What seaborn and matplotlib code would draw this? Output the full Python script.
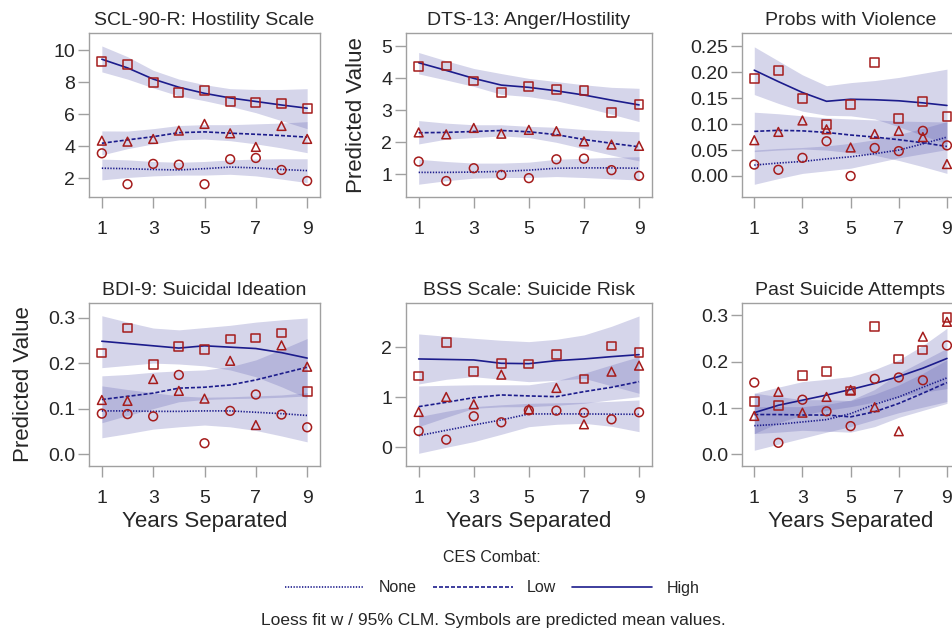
import matplotlib
matplotlib.use("Agg")
import matplotlib.pyplot as plt
from matplotlib.lines import Line2D
from matplotlib.ticker import FormatStrFormatter
import seaborn as sns
import pandas as pd

# ------------------------------------------------------------------
# Data (x = years separated 1..9)
# rows in every block: None, Low, High  (CES combat exposure)
# ------------------------------------------------------------------
years = [1, 2, 3, 4, 5, 6, 7, 8, 9]
groups = ["None", "Low", "High"]

titles = ["SCL-90-R: Hostility Scale", "DTS-13: Anger/Hostility", "Probs with Violence",
          "BDI-9: Suicidal Ideation", "BSS Scale: Suicide Risk", "Past Suicide Attempts"]

# SCL-90-R hostility
scl_means = [[3.56, 1.63, 2.90, 2.85, 1.63, 3.19, 3.27, 2.52, 1.83],
             [4.35, 4.29, 4.46, 4.98, 5.40, 4.81, 3.96, 5.27, 4.46],
             [9.29, 9.13, 7.98, 7.35, 7.50, 6.81, 6.75, 6.65, 6.35]]
scl_fit = [[2.63, 2.60, 2.55, 2.52, 2.60, 2.70, 2.65, 2.55, 2.48],
           [4.19, 4.40, 4.60, 4.85, 4.90, 4.82, 4.75, 4.67, 4.57],
           [9.44, 8.90, 8.20, 7.69, 7.31, 7.02, 6.80, 6.58, 6.38]]
scl_lo = [[1.90, 2.05, 2.15, 2.20, 2.20, 2.25, 2.15, 1.95, 1.73],
          [3.46, 3.85, 4.15, 4.40, 4.45, 4.35, 4.15, 3.90, 3.60],
          [8.65, 8.20, 7.65, 7.15, 6.85, 6.50, 6.10, 5.60, 5.10]]
scl_hi = [[3.20, 3.15, 3.05, 3.00, 3.05, 3.15, 3.20, 3.22, 3.22],
          [4.96, 4.95, 5.10, 5.30, 5.35, 5.35, 5.40, 5.45, 5.54],
          [10.27, 9.60, 8.75, 8.20, 7.85, 7.60, 7.55, 7.55, 7.60]]

# DTS-13 anger/hostility
dts_means = [[1.40, 0.79, 1.19, 0.98, 0.88, 1.47, 1.49, 1.13, 0.95],
             [2.31, 2.25, 2.45, 2.27, 2.39, 2.35, 2.03, 1.93, 1.89],
             [4.38, 4.39, 3.92, 3.56, 3.74, 3.65, 3.61, 2.93, 3.19]]
dts_fit = [[1.06, 1.06, 1.07, 1.09, 1.13, 1.19, 1.20, 1.20, 1.19],
           [2.30, 2.31, 2.34, 2.37, 2.33, 2.24, 2.09, 1.97, 1.86],
           [4.49, 4.25, 4.00, 3.79, 3.72, 3.61, 3.48, 3.32, 3.17]]
dts_lo = [[0.69, 0.80, 0.88, 0.90, 0.90, 0.93, 0.90, 0.86, 0.82],
          [1.95, 2.10, 2.15, 2.20, 2.15, 2.00, 1.80, 1.60, 1.42],
          [4.14, 3.95, 3.75, 3.50, 3.43, 3.30, 3.10, 2.88, 2.65]]
dts_hi = [[1.47, 1.40, 1.35, 1.35, 1.38, 1.47, 1.50, 1.53, 1.55],
          [2.68, 2.60, 2.55, 2.55, 2.50, 2.47, 2.40, 2.36, 2.33],
          [4.81, 4.55, 4.31, 4.15, 4.00, 3.90, 3.80, 3.72, 3.69]]

# problems with violence
vio_means = [[0.022, 0.012, 0.035, 0.067, 0.000, 0.054, 0.048, 0.087, 0.059],
             [0.069, 0.085, 0.107, 0.090, 0.055, 0.081, 0.087, 0.075, 0.023],
             [0.188, 0.203, 0.149, 0.100, 0.138, 0.219, 0.111, 0.143, 0.114]]
vio_fit = [[0.021, 0.025, 0.028, 0.033, 0.037, 0.043, 0.050, 0.062, 0.075],
           [0.086, 0.088, 0.087, 0.084, 0.079, 0.075, 0.070, 0.064, 0.057],
           [0.204, 0.182, 0.161, 0.144, 0.148, 0.147, 0.145, 0.141, 0.136]]
vio_lo = [[-0.016, -0.005, 0.005, 0.010, 0.015, 0.025, 0.035, 0.043, 0.051],
          [0.047, 0.050, 0.052, 0.050, 0.045, 0.040, 0.030, 0.018, 0.005],
          [0.157, 0.140, 0.125, 0.117, 0.116, 0.110, 0.095, 0.078, 0.062]]
vio_hi = [[0.050, 0.053, 0.055, 0.058, 0.063, 0.070, 0.080, 0.092, 0.105],
          [0.123, 0.120, 0.116, 0.112, 0.110, 0.108, 0.106, 0.105, 0.104],
          [0.249, 0.222, 0.195, 0.174, 0.180, 0.184, 0.190, 0.198, 0.206]]

# BDI-9 suicidal ideation
bdi_means = [[0.089, 0.088, 0.083, 0.174, 0.024, 0.095, 0.131, 0.087, 0.059],
             [0.119, 0.117, 0.165, 0.139, 0.122, 0.205, 0.064, 0.239, 0.192],
             [0.222, 0.277, 0.197, 0.236, 0.230, 0.253, 0.255, 0.266, 0.137]]
bdi_fit = [[0.095, 0.095, 0.094, 0.094, 0.095, 0.095, 0.092, 0.089, 0.085],
           [0.120, 0.127, 0.134, 0.145, 0.147, 0.152, 0.163, 0.177, 0.191],
           [0.248, 0.243, 0.238, 0.233, 0.238, 0.235, 0.232, 0.223, 0.211]]
bdi_lo = [[0.036, 0.045, 0.055, 0.060, 0.064, 0.060, 0.052, 0.040, 0.027],
          [0.069, 0.085, 0.100, 0.115, 0.120, 0.122, 0.123, 0.125, 0.128],
          [0.190, 0.195, 0.200, 0.198, 0.194, 0.185, 0.170, 0.148, 0.123]]
bdi_hi = [[0.150, 0.142, 0.135, 0.128, 0.125, 0.126, 0.128, 0.130, 0.135],
          [0.172, 0.175, 0.180, 0.183, 0.185, 0.192, 0.207, 0.230, 0.254],
          [0.304, 0.290, 0.277, 0.273, 0.278, 0.283, 0.290, 0.295, 0.299]]

# BSS suicide risk
bss_means = [[0.327, 0.153, 0.620, 0.500, 0.740, 0.733, 0.693, 0.560, 0.700],
             [0.707, 1.007, 0.860, 1.453, 0.760, 1.187, 0.460, 1.513, 1.633],
             [1.427, 2.100, 1.520, 1.673, 1.667, 1.853, 1.367, 2.027, 1.893]]
bss_fit = [[0.233, 0.340, 0.447, 0.547, 0.667, 0.667, 0.667, 0.663, 0.660],
           [0.813, 0.900, 0.993, 1.047, 1.027, 1.013, 1.113, 1.200, 1.313],
           [1.767, 1.757, 1.747, 1.680, 1.673, 1.733, 1.767, 1.813, 1.853]]
bss_lo = [[-0.120, 0.000, 0.113, 0.260, 0.413, 0.460, 0.480, 0.420, 0.313],
          [0.413, 0.600, 0.780, 0.810, 0.813, 0.840, 0.880, 0.950, 1.013],
          [1.267, 1.360, 1.413, 1.360, 1.313, 1.340, 1.380, 1.230, 1.080]]
bss_hi = [[0.613, 0.720, 0.813, 0.850, 0.880, 0.890, 0.900, 0.920, 0.947],
          [1.227, 1.240, 1.250, 1.250, 1.250, 1.330, 1.480, 1.650, 1.813],
          [2.267, 2.220, 2.180, 2.140, 2.113, 2.160, 2.247, 2.420, 2.627]]

# past suicide attempts
psa_means = [[0.155, 0.025, 0.118, 0.093, 0.061, 0.163, 0.166, 0.160, 0.235],
             [0.083, 0.135, 0.090, 0.124, 0.139, 0.102, 0.050, 0.254, 0.286],
             [0.114, 0.106, 0.170, 0.178, 0.137, 0.276, 0.206, 0.225, 0.296]]
psa_fit = [[0.062, 0.065, 0.070, 0.075, 0.088, 0.108, 0.124, 0.145, 0.165],
           [0.086, 0.086, 0.085, 0.085, 0.081, 0.092, 0.110, 0.132, 0.155],
           [0.090, 0.106, 0.117, 0.128, 0.140, 0.153, 0.168, 0.186, 0.207]]
psa_lo = [[0.009, 0.022, 0.035, 0.048, 0.060, 0.075, 0.090, 0.102, 0.114],
          [0.045, 0.048, 0.052, 0.050, 0.048, 0.060, 0.080, 0.095, 0.110],
          [0.045, 0.068, 0.085, 0.095, 0.103, 0.113, 0.124, 0.134, 0.142]]
psa_hi = [[0.103, 0.103, 0.103, 0.108, 0.117, 0.140, 0.175, 0.202, 0.229],
          [0.132, 0.125, 0.118, 0.118, 0.116, 0.130, 0.150, 0.175, 0.204],
          [0.132, 0.145, 0.157, 0.162, 0.168, 0.183, 0.204, 0.235, 0.272]]

# ------------------------------------------------------------------
# style
# ------------------------------------------------------------------
sns.set_theme(style="white")
plt.rcParams["font.family"] = ["Liberation Sans", "DejaVu Sans"]

NAVY = "#1c1c8c"
RED = "#a51c1c"
BAND = "#6464b4"
FRAME = "#a0a0a0"
marker_map = {"None": "o", "Low": "^", "High": "s"}
dash_map = {"None": (0.8, 0.9), "Low": (2.4, 1.2), "High": ""}

W, H = 952, 629
fig = plt.figure(figsize=(W / 100, H / 100), dpi=100)

# axes boxes in pixels: (left, width) per column, (top, height) per row
col_px = [(89, 231), (406, 246), (742, 217)]
row_px = [(33, 164), (303, 163)]
col_xlim = [(0.5, 9.5), (0.54, 9.47), (0.49, 9.5)]

panels = [
    (scl_means, scl_fit, scl_lo, scl_hi, (0.83, 11.08), [2, 4, 6, 8, 10], "%d"),
    (dts_means, dts_fit, dts_lo, dts_hi, (0.29, 5.42), [1, 2, 3, 4, 5], "%d"),
    (vio_means, vio_fit, vio_lo, vio_hi, (-0.0405, 0.2757), [0, 0.05, 0.10, 0.15, 0.20, 0.25], "%.2f"),
    (bdi_means, bdi_fit, bdi_lo, bdi_hi, (-0.026, 0.332), [0, 0.1, 0.2, 0.3], "%.1f"),
    (bss_means, bss_fit, bss_lo, bss_hi, (-0.374, 2.886), [0, 1, 2], "%d"),
    (psa_means, psa_fit, psa_lo, psa_hi, (-0.025, 0.3266), [0, 0.1, 0.2, 0.3], "%.1f"),
]

for i, (means, fits, lows, highs, ylim, yticks, fmt) in enumerate(panels):
    r, c = divmod(i, 3)
    left, width = col_px[c]
    top, height = row_px[r]
    ax = fig.add_axes([left / W, 1 - (top + height) / H, width / W, height / H])

    rows = []
    for g, m, f, lo, hi in zip(groups, means, fits, lows, highs):
        for k, yr in enumerate(years):
            rows.append({"combat": g, "year": yr, "mean": m[k], "fit": f[k], "lo": lo[k], "hi": hi[k]})
    df = pd.DataFrame(rows)

    # 95% CLM bands
    for g in groups:
        sub = df[df["combat"] == g]
        ax.fill_between(sub["year"], sub["lo"], sub["hi"], color=BAND, alpha=0.27, lw=0, zorder=1)

    # loess fits
    sns.lineplot(data=df, x="year", y="fit", style="combat", style_order=groups,
                 dashes=dash_map, color=NAVY, lw=1.2, errorbar=None,
                 legend=False, ax=ax, zorder=2)

    # predicted means
    sns.scatterplot(data=df, x="year", y="mean", style="combat", style_order=groups,
                    markers=marker_map, s=40, facecolor="none", edgecolor=RED,
                    linewidth=1.1, legend=False, ax=ax, zorder=3)

    ax.set_xlim(col_xlim[c])
    ax.set_ylim(ylim)
    ax.set_xticks([1, 3, 5, 7, 9])
    ax.set_yticks(yticks)
    ax.yaxis.set_major_formatter(FormatStrFormatter(fmt))
    ax.set_title(titles[i], fontsize=14, pad=6)
    ax.set_xlabel("Years Separated" if r == 1 else "", fontsize=16, labelpad=3)
    ax.set_ylabel("Predicted Value" if i in (1, 3) else "", fontsize=16, labelpad=10)
    ax.tick_params(axis="y", left=True, length=8, width=1, color=FRAME, pad=2, labelsize=14)
    ax.tick_params(axis="x", bottom=True, length=8, width=1, color=FRAME, pad=9, labelsize=14)
    for sp in ax.spines.values():
        sp.set_color(FRAME)
        sp.set_linewidth(1)

# legend
fig.text(492 / W, 1 - 558 / H, "CES Combat:", ha="center", va="center", fontsize=11.5)
handles = [Line2D([], [], color=NAVY, lw=1.2, dashes=dash_map["None"]),
           Line2D([], [], color=NAVY, lw=1.2, dashes=dash_map["Low"]),
           Line2D([], [], color=NAVY, lw=1.2, ls="-")]
fig.legend(handles, groups, loc="center", bbox_to_anchor=(492 / W, 1 - 588 / H), ncol=3,
           frameon=False, fontsize=11.5, handlelength=5, columnspacing=1.0,
           handletextpad=0.9, borderpad=0)

fig.text(493 / W, 1 - 621 / H, "Loess fit w / 95% CLM. Symbols are predicted mean values.",
         ha="center", va="center", fontsize=12.5)

fig.savefig("out.png", dpi=100)
